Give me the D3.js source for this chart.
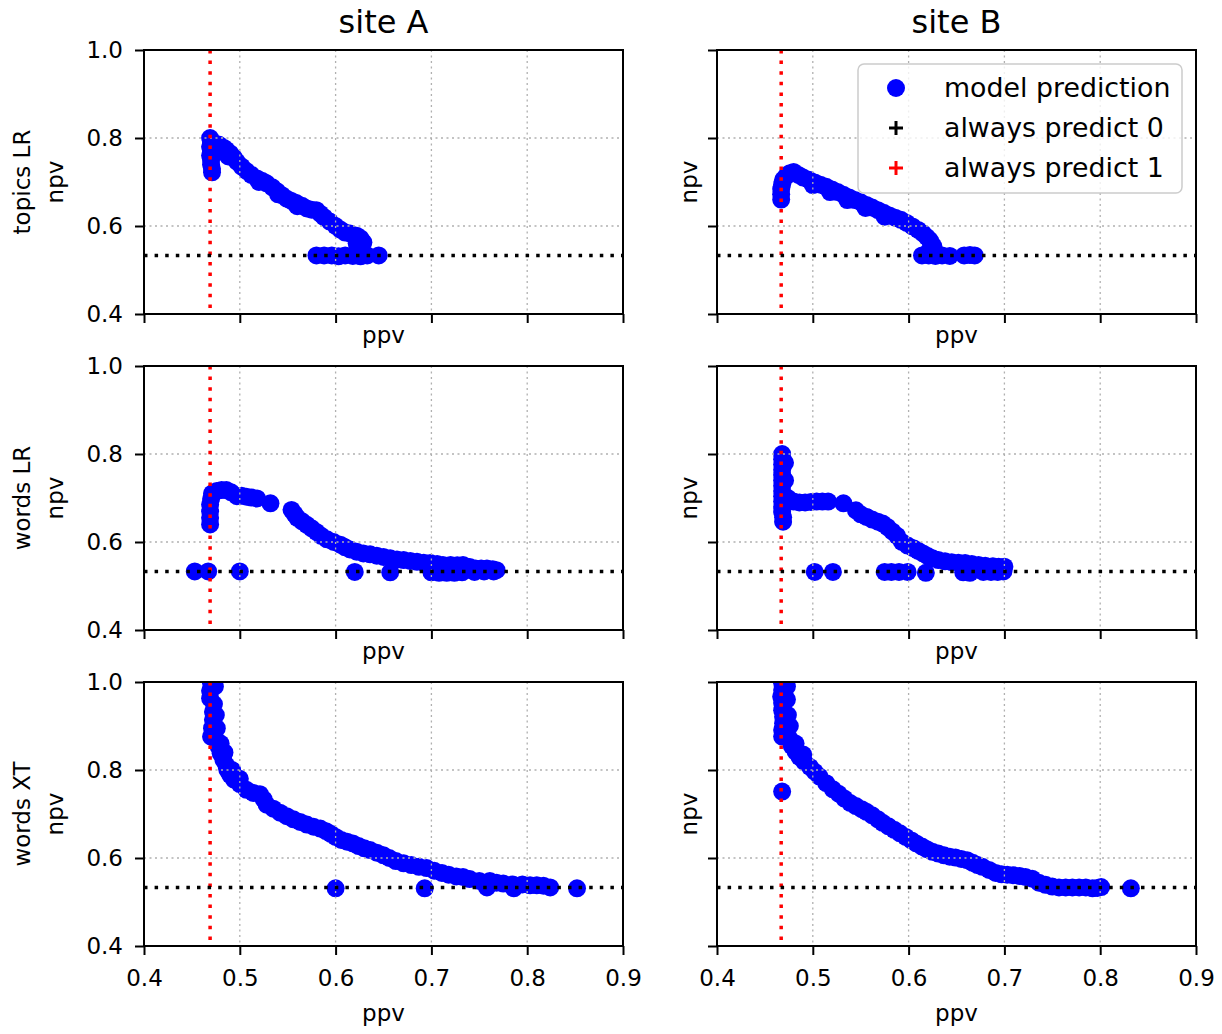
<!DOCTYPE html>
<html>
<head>
<meta charset="utf-8">
<script src="https://cdnjs.cloudflare.com/ajax/libs/d3/7.8.5/d3.min.js"></script>
<style>
    body { margin: 0; background: #fff; }
    text { font-family: "DejaVu Sans", sans-serif; fill: #000; }
</style>
</head>
<body>
<div id="chart-area"></div>
<script>
// columns = sites, rows = models
var sites = ["site A", "site B"];
var models = ["topics LR", "words LR", "words XT"];
var xTicks = [0.4, 0.5, 0.6, 0.7, 0.8, 0.9];
var yTicks = [0.4, 0.6, 0.8, 1.0];

// baselines per site (ppv of "always predict 1", npv of "always predict 0")
var alwaysPredict1Ppv = [0.469, 0.467];
var alwaysPredict0Npv = [0.533, 0.533];

// [ppv, npv] for each threshold of the model
var topicsLR_siteA = [
    [0.469,0.800],[0.470,0.790],[0.469,0.780],[0.470,0.770],[0.469,0.760],[0.470,0.750],[0.470,0.740],[0.471,0.730],[0.471,0.722],
    [0.478,0.785],[0.483,0.778],[0.486,0.773],[0.490,0.765],[0.494,0.755],[0.497,0.746],[0.502,0.735],[0.507,0.725],[0.512,0.716],
    [0.518,0.708],[0.523,0.703],[0.528,0.697],[0.534,0.688],[0.539,0.679],[0.544,0.670],[0.549,0.662],[0.554,0.657],[0.559,0.652],
    [0.565,0.646],[0.570,0.640],[0.575,0.637],[0.580,0.636],[0.584,0.628],[0.588,0.620],[0.594,0.610],[0.600,0.600],[0.605,0.592],
    [0.610,0.585],[0.615,0.583],[0.622,0.578],[0.626,0.572],[0.629,0.563],[0.622,0.561],[0.627,0.552],
    [0.480,0.770],[0.488,0.758],[0.520,0.700],[0.540,0.672],[0.560,0.645],
    [0.580,0.533],[0.588,0.533],[0.596,0.533],[0.603,0.531],[0.610,0.533],[0.618,0.532],[0.626,0.531],[0.633,0.533],[0.645,0.533]
];
var topicsLR_siteB = [
    [0.467,0.660],[0.467,0.672],[0.467,0.684],[0.468,0.695],[0.469,0.705],[0.472,0.713],[0.476,0.720],[0.480,0.723],
    [0.485,0.716],[0.490,0.710],[0.496,0.705],[0.502,0.699],[0.508,0.694],[0.514,0.689],[0.520,0.683],[0.526,0.677],[0.532,0.671],
    [0.538,0.665],[0.544,0.659],[0.550,0.654],[0.556,0.648],[0.562,0.642],[0.568,0.636],[0.574,0.630],[0.580,0.624],[0.586,0.619],
    [0.592,0.614],[0.598,0.607],[0.604,0.599],[0.610,0.591],[0.615,0.583],[0.619,0.575],[0.622,0.568],[0.624,0.560],[0.626,0.553],
    [0.622,0.545],
    [0.500,0.693],[0.518,0.677],[0.536,0.659],[0.555,0.641],[0.575,0.621],
    [0.614,0.533],[0.621,0.533],[0.628,0.532],[0.635,0.533],[0.643,0.532],[0.658,0.533],[0.664,0.534],[0.669,0.533]
];
var wordsLR_siteA = [
    [0.469,0.640],[0.469,0.655],[0.469,0.670],[0.469,0.685],[0.470,0.698],[0.471,0.710],
    [0.476,0.716],[0.481,0.718],[0.486,0.718],[0.491,0.713],[0.497,0.704],[0.502,0.705],[0.507,0.703],[0.512,0.701],[0.518,0.699],
    [0.532,0.688],[0.554,0.673],[0.557,0.664],[0.560,0.655],[0.565,0.647],[0.570,0.639],[0.575,0.631],[0.580,0.623],[0.585,0.614],
    [0.591,0.606],[0.598,0.600],[0.605,0.594],[0.610,0.588],[0.615,0.583],[0.622,0.578],[0.629,0.574],[0.636,0.572],[0.643,0.569],
    [0.650,0.566],[0.657,0.563],[0.664,0.560],[0.671,0.559],[0.678,0.557],[0.685,0.555],[0.692,0.553],[0.699,0.552],[0.706,0.550],
    [0.712,0.548],[0.720,0.548],[0.727,0.547],[0.733,0.548],[0.740,0.543],[0.746,0.540],[0.752,0.540],[0.758,0.540],[0.764,0.538],
    [0.768,0.536],
    [0.453,0.533],[0.467,0.533],[0.500,0.533],[0.620,0.532],[0.657,0.531],[0.700,0.531],[0.708,0.530],[0.716,0.530],[0.724,0.530],
    [0.732,0.531],[0.745,0.532],[0.755,0.533],[0.765,0.533]
];
var wordsLR_siteB = [
    [0.468,0.800],[0.468,0.788],[0.468,0.776],[0.468,0.764],[0.468,0.752],[0.468,0.740],[0.468,0.728],[0.468,0.716],[0.468,0.704],
    [0.468,0.692],[0.468,0.680],[0.468,0.668],[0.469,0.656],[0.469,0.646],[0.471,0.780],[0.471,0.740],
    [0.474,0.700],[0.480,0.692],[0.486,0.690],[0.492,0.690],[0.498,0.691],[0.504,0.692],[0.510,0.692],[0.516,0.692],[0.532,0.688],
    [0.545,0.672],[0.550,0.663],[0.556,0.657],[0.562,0.651],[0.568,0.646],[0.573,0.642],[0.578,0.634],[0.583,0.624],[0.588,0.614],
    [0.593,0.600],[0.599,0.592],[0.605,0.586],[0.610,0.580],[0.615,0.574],[0.620,0.568],[0.625,0.563],[0.631,0.559],[0.638,0.556],
    [0.645,0.554],[0.652,0.553],[0.659,0.552],[0.666,0.550],[0.673,0.548],[0.680,0.546],[0.688,0.545],[0.694,0.544],[0.700,0.544],
    [0.502,0.532],[0.521,0.532],[0.575,0.532],[0.582,0.532],[0.590,0.532],[0.599,0.532],[0.618,0.530],[0.657,0.531],[0.664,0.530],
    [0.678,0.532],[0.686,0.532],[0.693,0.532],[0.699,0.533]
];
var wordsXT_siteA = [
    [0.470,0.997],[0.469,0.980],[0.469,0.963],[0.473,0.950],[0.472,0.932],[0.472,0.914],[0.471,0.895],[0.470,0.876],[0.476,0.866],
    [0.478,0.852],[0.480,0.838],[0.483,0.823],[0.486,0.810],[0.487,0.800],[0.490,0.789],[0.494,0.778],[0.500,0.768],[0.507,0.755],
    [0.514,0.748],[0.521,0.745],[0.525,0.733],[0.528,0.721],[0.535,0.712],[0.542,0.703],[0.549,0.695],[0.556,0.688],[0.563,0.682],
    [0.570,0.676],[0.577,0.671],[0.584,0.667],[0.590,0.661],[0.595,0.655],[0.600,0.648],[0.606,0.641],[0.612,0.637],[0.618,0.633],
    [0.624,0.627],[0.630,0.622],[0.636,0.618],[0.643,0.612],[0.650,0.606],[0.656,0.600],[0.663,0.593],[0.671,0.588],[0.679,0.584],
    [0.687,0.580],[0.695,0.577],[0.703,0.571],[0.711,0.566],[0.718,0.562],[0.726,0.558],[0.733,0.557],[0.740,0.552],[0.750,0.548],
    [0.761,0.548],[0.768,0.544],[0.775,0.542],[0.785,0.540],[0.795,0.540],[0.803,0.538],[0.810,0.538],[0.817,0.537],[0.824,0.533],
    [0.474,0.990],[0.475,0.925],[0.476,0.895],[0.480,0.860],[0.484,0.840],[0.492,0.800],[0.500,0.780],
    [0.600,0.531],[0.693,0.531],[0.758,0.533],[0.786,0.531],[0.852,0.531]
];
var wordsXT_siteB = [
    [0.468,0.997],[0.468,0.982],[0.467,0.967],[0.468,0.952],[0.468,0.936],[0.469,0.921],[0.469,0.906],[0.468,0.891],[0.468,0.876],
    [0.472,0.880],[0.476,0.870],[0.478,0.855],[0.468,0.751],
    [0.473,0.990],[0.473,0.960],[0.474,0.925],[0.476,0.900],[0.482,0.860],[0.490,0.835],
    [0.482,0.842],[0.486,0.830],[0.491,0.819],[0.497,0.807],[0.502,0.796],[0.507,0.785],[0.514,0.770],[0.521,0.756],[0.527,0.746],
    [0.533,0.735],[0.539,0.725],[0.545,0.718],[0.551,0.711],[0.556,0.705],[0.562,0.697],[0.568,0.688],[0.573,0.680],[0.579,0.672],
    [0.585,0.664],[0.591,0.656],[0.597,0.648],[0.603,0.640],[0.608,0.633],[0.614,0.626],[0.619,0.620],[0.625,0.614],[0.631,0.610],
    [0.637,0.606],[0.643,0.603],[0.649,0.601],[0.655,0.598],[0.661,0.595],[0.667,0.589],[0.672,0.584],[0.677,0.580],[0.684,0.573],
    [0.691,0.566],[0.697,0.563],[0.703,0.562],[0.709,0.561],[0.716,0.559],[0.722,0.557],[0.729,0.553],[0.736,0.544],[0.743,0.539],
    [0.750,0.535],[0.757,0.533],[0.764,0.533],[0.771,0.533],[0.778,0.533],[0.785,0.533],[0.792,0.531],[0.797,0.532],[0.801,0.534],
    [0.832,0.531]
];

var panelData = [
    [topicsLR_siteA, topicsLR_siteB],
    [wordsLR_siteA, wordsLR_siteB],
    [wordsXT_siteA, wordsXT_siteB]
];

var legendLabels = ["model prediction", "always predict 0", "always predict 1"];

var svg = d3.select("#chart-area").append("svg")
    .attr("width", 1222)
    .attr("height", 1034);

var colLeft = [144, 717];
var rowTop = [50, 366, 682];
var panelW = 479, panelH = 264;

models.forEach(function (model, r) {
    sites.forEach(function (site, c) {
        var g = svg.append("g")
            .attr("transform", "translate(" + colLeft[c] + "," + rowTop[r] + ")");

        var x = d3.scaleLinear().domain([0.4, 0.9]).range([0, panelW]);
        var y = d3.scaleLinear().domain([0.4, 1.0]).range([panelH, 0]);

        var clipId = "clip-" + r + "-" + c;
        g.append("clipPath").attr("id", clipId)
            .append("rect").attr("width", panelW).attr("height", panelH);

        var plot = g.append("g").attr("clip-path", "url(#" + clipId + ")");

        // points
        plot.selectAll("circle")
            .data(panelData[r][c])
            .enter().append("circle")
            .attr("cx", function (d) { return x(d[0]); })
            .attr("cy", function (d) { return y(d[1]); })
            .attr("r", 9)
            .attr("fill", "blue");

        // grid (drawn over the points)
        plot.selectAll(".gx")
            .data(xTicks)
            .enter().append("line")
            .attr("x1", function (d) { return x(d); })
            .attr("x2", function (d) { return x(d); })
            .attr("y1", 0).attr("y2", panelH)
            .attr("stroke", "#b0b0b0").attr("stroke-width", 1.3)
            .attr("stroke-dasharray", "2,3.5");
        plot.selectAll(".gy")
            .data(yTicks)
            .enter().append("line")
            .attr("y1", function (d) { return y(d); })
            .attr("y2", function (d) { return y(d); })
            .attr("x1", 0).attr("x2", panelW)
            .attr("stroke", "#b0b0b0").attr("stroke-width", 1.3)
            .attr("stroke-dasharray", "2,3.5");

        // baselines
        plot.append("line")
            .attr("x1", x(alwaysPredict1Ppv[c])).attr("x2", x(alwaysPredict1Ppv[c]))
            .attr("y1", 0).attr("y2", panelH)
            .attr("stroke", "red").attr("stroke-width", 3.5)
            .attr("stroke-dasharray", "3.5,7.1");
        plot.append("line")
            .attr("y1", y(alwaysPredict0Npv[c])).attr("y2", y(alwaysPredict0Npv[c]))
            .attr("x1", 0).attr("x2", panelW)
            .attr("stroke", "black").attr("stroke-width", 3.5)
            .attr("stroke-dasharray", "3.5,7.1");

        // axes
        var xAxis = d3.axisBottom(x).tickValues(xTicks).tickSize(9).tickSizeOuter(0).tickPadding(15)
            .tickFormat(r === 2 ? d3.format(".1f") : "");
        var yAxis = d3.axisLeft(y).tickValues(yTicks).tickSize(9).tickSizeOuter(0).tickPadding(12)
            .tickFormat(c === 0 ? d3.format(".1f") : "");

        var gx = g.append("g").attr("transform", "translate(0," + panelH + ")").call(xAxis);
        var gy = g.append("g").call(yAxis);
        [gx, gy].forEach(function (a) {
            a.select(".domain").remove();
            a.selectAll("line").attr("stroke", "#000").attr("stroke-width", 2);
            a.selectAll("text").attr("font-size", 23).attr("font-family", "DejaVu Sans").attr("fill", "#000");
        });

        // frame
        g.append("rect")
            .attr("width", panelW).attr("height", panelH)
            .attr("fill", "none").attr("stroke", "#000").attr("stroke-width", 2);

        // x label
        g.append("text")
            .attr("x", panelW / 2)
            .attr("y", panelH + (r === 2 ? 75 : 29))
            .attr("text-anchor", "middle")
            .attr("font-size", 23)
            .text("ppv");

        // y label
        if (c === 0) {
            g.append("text")
                .attr("transform", "translate(" + (30 - colLeft[c]) + "," + panelH / 2 + ") rotate(-90)")
                .attr("text-anchor", "middle")
                .attr("font-size", 23)
                .text(model);
            g.append("text")
                .attr("transform", "translate(" + (63 - colLeft[c]) + "," + panelH / 2 + ") rotate(-90)")
                .attr("text-anchor", "middle")
                .attr("font-size", 23)
                .text("npv");
        } else {
            g.append("text")
                .attr("transform", "translate(" + (697 - colLeft[c]) + "," + panelH / 2 + ") rotate(-90)")
                .attr("text-anchor", "middle")
                .attr("font-size", 23)
                .text("npv");
        }

        // column titles
        if (r === 0) {
            g.append("text")
                .attr("x", panelW / 2)
                .attr("y", 33 - rowTop[r])
                .attr("text-anchor", "middle")
                .attr("font-size", 32)
                .text(site);
        }

        // legend in the top right panel
        if (r === 0 && c === 1) {
            var lg = g.append("g").attr("transform", "translate(141,14)");
            lg.append("rect")
                .attr("width", 324).attr("height", 129).attr("rx", 6)
                .attr("fill", "white").attr("fill-opacity", 0.8)
                .attr("stroke", "#cccccc").attr("stroke-width", 1.5);
            var rows = lg.selectAll(".entry")
                .data(legendLabels)
                .enter().append("g")
                .attr("class", "entry")
                .attr("transform", function (d, i) { return "translate(0," + (i * 40) + ")"; });
            rows.append("text")
                .attr("x", 86).attr("y", 33)
                .attr("font-size", 26.8)
                .text(function (d) { return d; });
            rows.each(function (d, i) {
                var e = d3.select(this);
                if (i === 0) {
                    e.append("circle").attr("cx", 38).attr("cy", 24).attr("r", 9).attr("fill", "blue");
                } else {
                    var col = i === 1 ? "black" : "red";
                    e.append("line").attr("x1", 31).attr("x2", 45).attr("y1", 24).attr("y2", 24)
                        .attr("stroke", col).attr("stroke-width", 3);
                    e.append("line").attr("x1", 38).attr("x2", 38).attr("y1", 17).attr("y2", 31)
                        .attr("stroke", col).attr("stroke-width", 3);
                }
            });
        }
    });
});
</script>
</body>
</html>
